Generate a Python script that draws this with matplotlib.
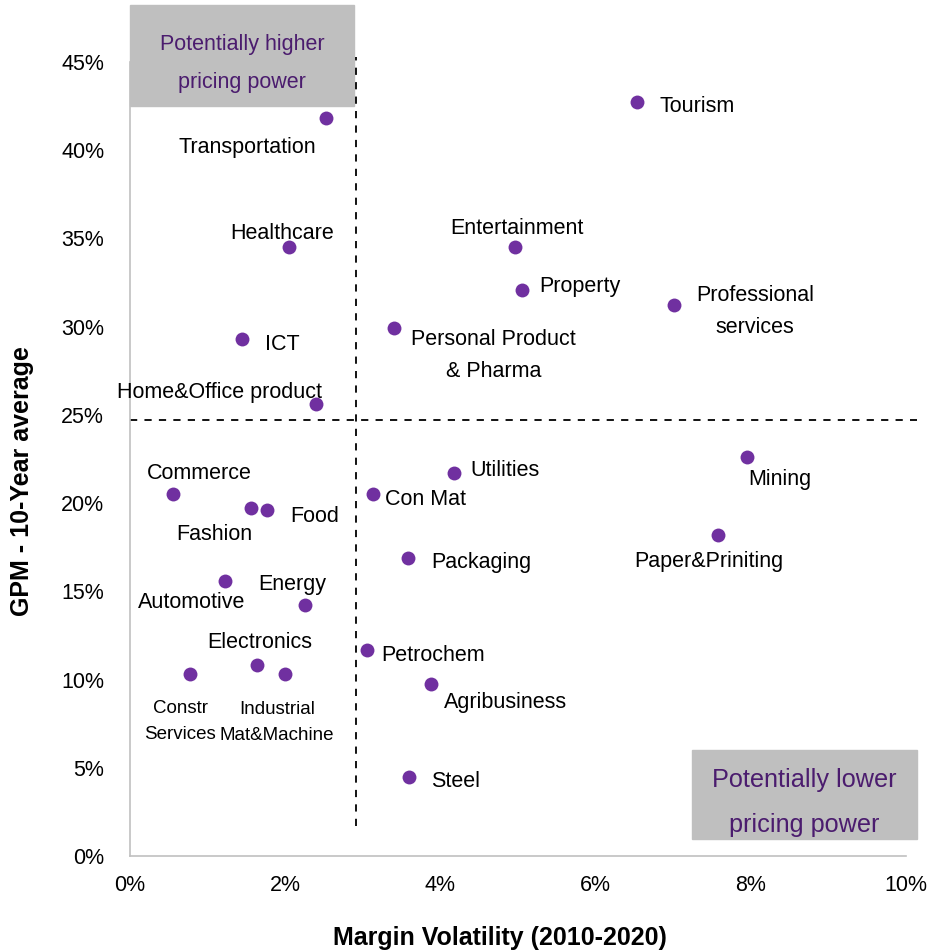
import matplotlib.pyplot as plt
from matplotlib.patches import Rectangle
from matplotlib.ticker import FuncFormatter

plt.rcParams['font.family'] = ['Liberation Sans', 'DejaVu Sans']

# sector data: margin volatility (%) and 10-year average GPM (%)
sectors = ['Tourism', 'Transportation', 'Healthcare', 'Entertainment', 'Property',
           'Professional\nservices', 'Personal Product\n& Pharma', 'ICT',
           'Home&Office product', 'Commerce', 'Fashion', 'Food', 'Con Mat',
           'Utilities', 'Mining', 'Paper&Priniting', 'Packaging', 'Automotive',
           'Energy', 'Petrochem', 'Electronics', 'Industrial\nMat&Machine',
           'Constr\nServices', 'Agribusiness', 'Steel']
volatility = [6.53, 2.53, 2.05, 4.97, 5.05, 7.01, 3.41, 1.45, 2.40, 0.55, 1.56,
              1.77, 3.13, 4.18, 7.95, 7.58, 3.59, 1.23, 2.26, 3.05, 1.64, 2.00,
              0.78, 3.88, 3.60]
gpm = [42.7, 41.8, 34.5, 34.5, 32.1, 31.2, 29.9, 29.3, 25.6, 20.5, 19.7, 19.6,
       20.5, 21.7, 22.6, 18.2, 16.9, 15.6, 14.2, 11.7, 10.8, 10.3, 10.3, 9.75, 4.5]

x_ticks = [0, 2, 4, 6, 8, 10]
y_ticks = [0, 5, 10, 15, 20, 25, 30, 35, 40, 45]

# label placement: (dx, dy in pixels, horizontal alignment)
label_pos = {
    'Tourism': (23, -4, 'left'),
    'Transportation': (-79, -29, 'center'),
    'Healthcare': (-7, 14, 'center'),
    'Entertainment': (1, 19, 'center'),
    'Property': (18, 3, 'left'),
    'Professional\nservices': (81, -6, 'center'),
    'Personal Product\n& Pharma': (99, -27, 'center'),
    'ICT': (23, -6, 'left'),
    'Home&Office product': (-97, 12, 'center'),
    'Commerce': (27, 21, 'center'),
    'Fashion': (-37, -26, 'center'),
    'Food': (23, -6, 'left'),
    'Con Mat': (12, -5, 'left'),
    'Utilities': (16, 3, 'left'),
    'Mining': (2, -22, 'left'),
    'Paper&Priniting': (-9, -27, 'center'),
    'Packaging': (23, -5, 'left'),
    'Automotive': (-34, -22, 'center'),
    'Energy': (-13, 21, 'center'),
    'Petrochem': (15, -6, 'left'),
    'Electronics': (3, 23, 'center'),
    'Industrial\nMat&Machine': (-8, -48, 'center'),
    'Constr\nServices': (-10, -47, 'center'),
    'Agribusiness': (13, -19, 'left'),
    'Steel': (22, -5, 'left'),
}

purple = '#7030a0'
box_text = '#4b1c6e'

fig = plt.figure(figsize=(9.28, 9.51), dpi=100)
ax = fig.add_axes([0.140, 0.0999, 0.836, 0.835])

ax.scatter(volatility, gpm, s=100, color=purple, zorder=3, linewidths=0)

for name, xv, yv in zip(sectors, volatility, gpm):
    dx, dy, ha = label_pos[name]
    small = name.startswith('Constr') or name.startswith('Industrial')
    ax.annotate(name, (xv, yv), xytext=(dx, dy), textcoords='offset pixels',
                ha=ha, va='center', fontsize=13.5 if small else 15.5,
                linespacing=1.7, color='black', zorder=4)

# quadrant dividers
ax.plot([2.91, 2.91], [1.7, 45.3], ls=(0, (4, 4)), color='black', lw=1.3,
        clip_on=False, zorder=2)
ax.plot([0, 10.15], [24.7, 24.7], ls=(0, (4, 4)), color='black', lw=1.3,
        clip_on=False, zorder=2)

# annotation boxes
ax.add_patch(Rectangle((0, 42.5), 2.89, 5.7, color='#bfbfbf', clip_on=False, zorder=1))
ax.text(1.445, 44.9, 'Potentially higher\npricing power', ha='center', va='center',
        fontsize=15.5, color=box_text, linespacing=2.1, zorder=2)
ax.add_patch(Rectangle((7.24, 0.96), 2.91, 5.05, color='#bfbfbf', clip_on=False, zorder=1))
ax.text(8.695, 3.05, 'Potentially lower\npricing power', ha='center', va='center',
        fontsize=18.2, color=box_text, linespacing=2.1, zorder=2)

ax.set_xlim(0, 10)
ax.set_ylim(0, 45)
ax.set_xticks(x_ticks)
ax.set_yticks(y_ticks)
ax.xaxis.set_major_formatter(FuncFormatter(lambda v, p: f'{v:.0f}%'))
ax.yaxis.set_major_formatter(FuncFormatter(lambda v, p: f'{v:.0f}%'))
ax.tick_params(axis='both', length=0, labelsize=15.5)
ax.tick_params(axis='x', pad=14)
ax.tick_params(axis='y', pad=18.5)

for side in ['top', 'right']:
    ax.spines[side].set_visible(False)
for side in ['left', 'bottom']:
    ax.spines[side].set_color('#c0c0c0')
    ax.spines[side].set_linewidth(1.2)

ax.set_xlabel('Margin Volatility (2010-2020)', fontsize=18, fontweight='bold', va='center')
ax.set_ylabel('GPM - 10-Year average', fontsize=18, fontweight='bold', va='center')
ax.xaxis.set_label_coords(0.477, -0.103)
ax.yaxis.set_label_coords(-0.139, 0.472)

fig.savefig('out.png', dpi=100)
